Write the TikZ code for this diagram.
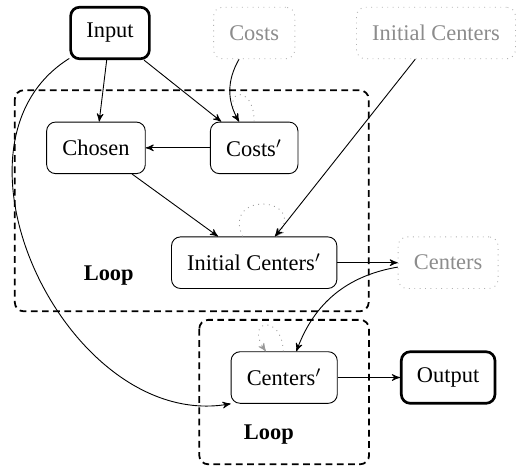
\documentclass[tikz,border=0pt]{standalone}
\usepackage{fontspec}
\setmainfont{Liberation Serif}
\usepackage{tikz}
\usetikzlibrary{arrows,positioning,calc}

\begin{document}
\begin{tikzpicture}[
    auto,
    node distance=1.8cm,
    >=stealth',
    font=\normalfont,
    block/.style={
		rectangle,
		rounded corners,
		draw=black,
		text centered,
		inner sep=7pt,
		minimum height=23pt,
		fill=white
	},
	io/.style={
		block,
		very thick
	},
	ghost/.style={
		block,
		draw=black!30,
		dotted,
		text=black!45
	},
	looptext/.style={
		font=\bfseries
	},
	loopbox/.style={
		draw,
		thick,
		rounded corners,
		dash pattern=on 3pt off 2pt
	},
	selfloop/.style={
		draw=black!40,
		dotted
	}
  ]
  \useasboundingbox (-49.06pt,14.72pt) rectangle (183.3pt,-194.0pt);

    % We start by placing the blocks
  \node [io] (input) {Input};
  \node [block, below of=input, xshift=-0.22cm] (chosen) {Chosen};
  \node [block, right of=chosen, xshift=0.68cm] (costsp) {Costs$'$};
  \node [ghost, above of=costsp] (costs) {Costs};
  \node [ghost, right of=costs, xshift=1.05cm] (initc) {Initial Centers};
  \node [block, below of=costsp] (initcp) {Initial Centers$'$};
  \node [ghost, right of=initcp, xshift=1.24cm] (centers) {Centers};
  \node [block, below of=initcp, xshift=0.47cm] (centersp) {Centers$'$};
  \node [io, below of=centers] (output) {Output};

  \node [looptext, below of=chosen, xshift=0.2cm, yshift=-0.2cm] (loop1label) {Loop};
  \node [looptext, below of=centersp, xshift=-0.24cm, yshift=0.9cm] (loop2label) {Loop};

  % the two loops
  \draw [loopbox] ($(chosen.north west)+(-14pt,14pt)$) rectangle ($(initcp.south east)+(14pt,-10pt)$);
  \draw [loopbox] ($(centersp.north west)+(-14pt,14pt)$) rectangle ($(centersp.south east)+(14pt,-27pt)$);

  \draw [selfloop,->] (costsp) to [out=90, in=120, distance=6mm] (costsp);
  \draw [selfloop,->] (initcp) to [out=114, in=50, distance=8mm] (initcp);
  \draw [selfloop,->] (centersp) to [out=92, in=125, distance=6mm] (centersp);

  \draw [draw,->] (input) -- (chosen);
  \draw [draw,->] (input) -- (costsp);
  \draw [draw,->] (costs) to [bend right] (costsp);
  \draw [draw,->] (costsp) -- (chosen);
  \draw [draw,->] (chosen) -- (initcp);
  \draw [draw,->] (initc) -- (initcp);
  \draw [draw,->] (initcp) -- (centers);
  \draw [draw,->] (centers) to [bend right] (centersp);
  \draw [draw,->] (centersp) -- (output);
  \draw [draw,->] (input) to [out=212, in=190, looseness=1.1] (centersp.south west);

\end{tikzpicture}
\end{document}
